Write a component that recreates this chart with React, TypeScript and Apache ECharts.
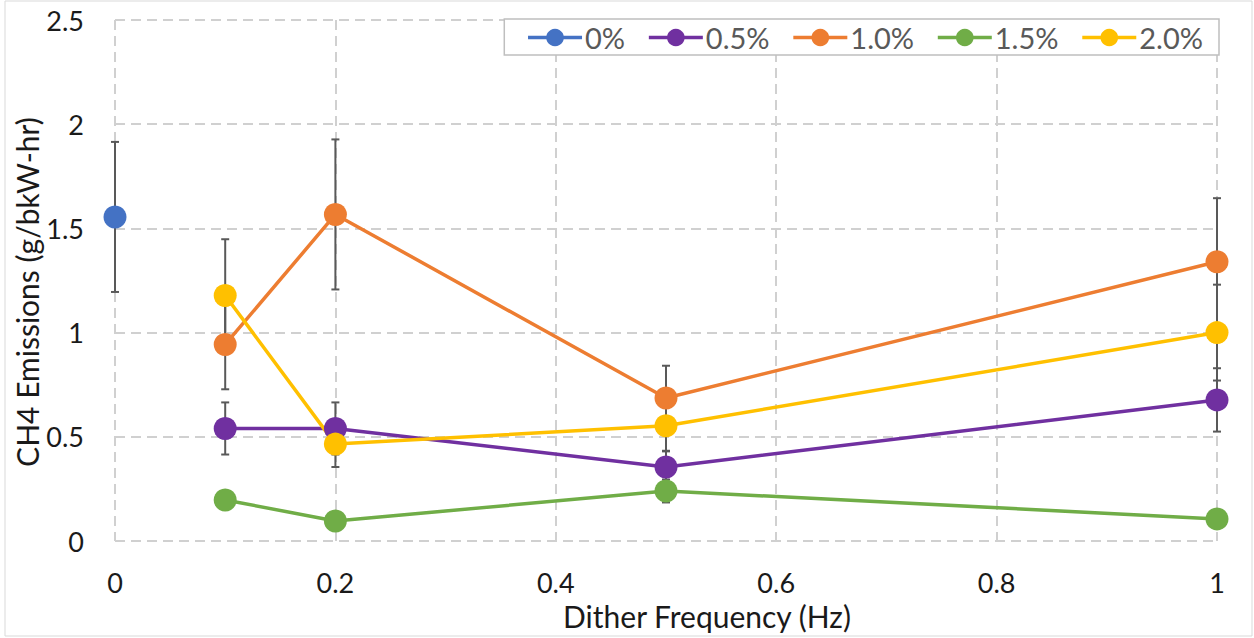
import React, { useEffect, useRef } from "react";
import * as echarts from "echarts";

const seriesNames = ["0%", "0.5%", "1.0%", "1.5%", "2.0%"];
const colors = ["#4472C4", "#7030A0", "#ED7D31", "#70AD47", "#FFC000"];
const freqs = [0.1, 0.2, 0.5, 1];
const freq0 = [0];
const val0 = [1.555];
const val05 = [0.54, 0.54, 0.355, 0.677];
const val10 = [0.943, 1.567, 0.686, 1.34];
const val15 = [0.197, 0.096, 0.24, 0.106];
const val20 = [1.178, 0.465, 0.553, 1.0];
const err0 = [0.36];
const err05 = [0.125, 0.125, 0.075, 0.152];
const err10 = [0.215, 0.36, 0.155, 0.305];
const err15 = [0, 0, 0.055, 0];
const err20 = [0.27, 0.11, 0.12, 0.23];
const xTitle = "Dither Frequency (Hz)";
const yTitle = "CH4 Emissions (g/bkW-hr)";

const FONT = "Lato";

export default function App() {
  const ref = useRef<HTMLDivElement>(null);
  useEffect(() => {
    if (!ref.current) return;
    const chart = echarts.init(ref.current, null, { renderer: "svg" });
    const groups = [
      { x: freq0, v: val0, e: err0 },
      { x: freqs, v: val05, e: err05 },
      { x: freqs, v: val10, e: err10 },
      { x: freqs, v: val15, e: err15 },
      { x: freqs, v: val20, e: err20 },
    ];
    const errData: number[][] = [];
    groups.forEach((g) => {
      g.x.forEach((xv, i) => {
        if (g.e[i] > 0) errData.push([xv, g.v[i] - g.e[i], g.v[i] + g.e[i]]);
      });
    });
    const lineSeries = groups.map((g, si) => ({
      type: "line",
      name: seriesNames[si],
      data: g.x.map((xv, i) => [xv, g.v[i]]),
      symbol: "circle",
      symbolSize: 23,
      itemStyle: { color: colors[si] },
      lineStyle: { color: colors[si], width: 3.5 },
      z: 3,
    }));
    chart.setOption({
      animation: false,
      graphic: [
        {
          type: "rect",
          shape: { x: 5, y: 1, width: 1247, height: 635 },
          style: { fill: "none", stroke: "#d9d9d9", lineWidth: 1 },
          silent: true,
        },
        {
          type: "text",
          x: 707,
          y: 616,
          style: {
            text: xTitle,
            fontFamily: FONT,
            fontSize: 30,
            fill: "#1a1a1a",
            textAlign: "center",
            textVerticalAlign: "middle",
          },
        },
        {
          type: "text",
          x: 27,
          y: 292,
          rotation: Math.PI / 2,
          style: {
            text: yTitle,
            fontFamily: FONT,
            fontSize: 30,
            fill: "#1a1a1a",
            textAlign: "center",
            textVerticalAlign: "middle",
          },
        },
      ],
      grid: { left: 115, right: 37, top: 20, bottom: 97 },
      legend: {
        data: seriesNames,
        right: 35,
        top: 19,
        orient: "horizontal",
        itemWidth: 54,
        itemHeight: 22,
        itemGap: 22,
        padding: [4, 16, 3, 22],
        backgroundColor: "#ffffff",
        borderColor: "#bfbfbf",
        borderWidth: 1.5,
        lineStyle: { width: 3.5 },
        textStyle: { fontFamily: FONT, fontSize: 29, color: "#595959", padding: [0, 0, 0, -2] },
        z: 10,
      },
      xAxis: {
        type: "value",
        min: 0,
        max: 1,
        interval: 0.2,
        axisLine: { show: false },
        axisTick: { show: false },
        axisLabel: { fontFamily: FONT, fontSize: 27, color: "#1a1a1a", margin: 28 },
        splitLine: { show: true, lineStyle: { color: "#d0d0d0", width: 2, type: [10, 6] } },
      },
      yAxis: {
        type: "value",
        min: 0,
        max: 2.5,
        interval: 0.5,
        axisLine: { show: false },
        axisTick: { show: false },
        axisLabel: { fontFamily: FONT, fontSize: 27, color: "#1a1a1a", margin: 31 },
        splitLine: { show: true, lineStyle: { color: "#d0d0d0", width: 2, type: [10, 6] } },
      },
      series: [
        {
          type: "custom",
          name: "errors",
          data: errData,
          z: 2,
          silent: true,
          renderItem: (params: any, api: any) => {
            const x = api.value(0);
            const lo = api.coord([x, api.value(1)]);
            const hi = api.coord([x, api.value(2)]);
            const w = 4;
            const st = { stroke: "#595959", lineWidth: 2 };
            return {
              type: "group",
              children: [
                { type: "line", shape: { x1: lo[0], y1: lo[1], x2: hi[0], y2: hi[1] }, style: st },
                { type: "line", shape: { x1: lo[0] - w, y1: lo[1], x2: lo[0] + w, y2: lo[1] }, style: st },
                { type: "line", shape: { x1: hi[0] - w, y1: hi[1], x2: hi[0] + w, y2: hi[1] }, style: st },
              ],
            };
          },
        },
        ...lineSeries,
      ],
    });
    return () => chart.dispose();
  }, []);
  return (
    <div
      ref={ref}
      style={{ position: "fixed", left: 0, top: 0, width: 1254, height: 638, background: "#fff" }}
    />
  );
}
